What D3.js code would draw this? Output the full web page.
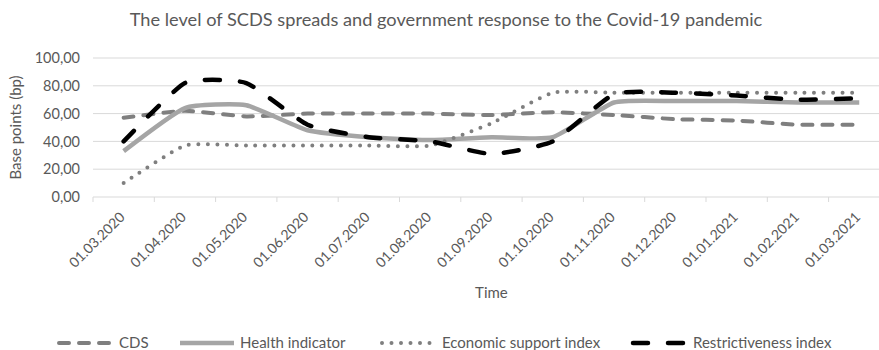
<!DOCTYPE html>
<html>
<head>
<meta charset="utf-8">
<script src="https://cdn.jsdelivr.net/npm/d3@7"></script>
<style>
  html, body { margin: 0; padding: 0; background: #fff; }
  svg { display: block; font-family: Lato, Carlito, Calibri, sans-serif; }
</style>
</head>
<body>
<svg id="chart" width="879" height="350"></svg>
<script>
// Monthly observations
const dates = ["01.03.2020","01.04.2020","01.05.2020","01.06.2020","01.07.2020","01.08.2020",
               "01.09.2020","01.10.2020","01.11.2020","01.12.2020","01.01.2021","01.02.2021","01.03.2021"];
const cds            = [57, 62, 58, 60, 60, 60, 59, 61, 59, 56, 55, 52, 52];
const health         = [33, 64, 66, 48, 43, 41, 43, 43, 68, 69, 69, 68, 68];
const economic       = [10, 37, 37, 37, 37, 37, 53, 75, 75, 75, 75, 75, 75];
const restrictive    = [40, 82, 82, 52, 43, 40, 31, 40, 74, 75, 73, 70, 71];
const yTicks = [0, 20, 40, 60, 80, 100];

const seriesNames = ["CDS", "Health indicator", "Economic support index", "Restrictiveness index"];

const styles = [
  { color: "#7f7f7f", width: 4,   dash: "10,10", cap: "round" },
  { color: "#a5a5a5", width: 4.5, dash: null,    cap: "butt"  },
  { color: "#7f7f7f", width: 4,   dash: "0,9.5", cap: "round" },
  { color: "#000000", width: 4.5, dash: "15,20", cap: "round" }
];
const seriesValues = [cds, health, economic, restrictive];

const svg = d3.select("#chart");
const textColor = "#595959";
const gridColor = "#d9d9d9";

const plotLeft = 93, step = 61.3;
const plotRight = plotLeft + step * dates.length;
const plotTop = 58, plotBottom = 197;

const x = d3.scalePoint().domain(dates).range([plotLeft, plotRight]).padding(0.5);
const y = d3.scaleLinear().domain([0, 100]).range([plotBottom, plotTop]);

// Title
svg.append("text")
  .attr("x", 446).attr("y", 26)
  .attr("text-anchor", "middle")
  .attr("font-size", 18.2)
  .attr("fill", textColor)
  .text("The level of SCDS spreads and government response to the Covid-19 pandemic");

// Horizontal gridlines
svg.append("g")
  .selectAll("line")
  .data(yTicks)
  .join("line")
  .attr("x1", plotLeft).attr("x2", plotRight)
  .attr("y1", d => y(d)).attr("y2", d => y(d))
  .attr("stroke", gridColor).attr("stroke-width", 1);

// Y axis labels
const fmt = d => d.toFixed(2).replace(".", ",");
const yAxis = svg.append("g")
  .attr("transform", `translate(${plotLeft - 13},0)`)
  .call(d3.axisLeft(y).tickValues(yTicks).tickFormat(fmt).tickSize(0).tickPadding(0));
yAxis.select(".domain").remove();
yAxis.selectAll("text")
  .attr("fill", textColor)
  .attr("font-size", 14.5)
  .attr("font-family", "Lato, Carlito, Calibri, sans-serif");

// Y axis title
svg.append("text")
  .attr("transform", `translate(21,${(plotTop + plotBottom) / 2}) rotate(-90)`)
  .attr("text-anchor", "middle")
  .attr("font-size", 15)
  .attr("fill", textColor)
  .text("Base points (bp)");

// Category tick marks on the baseline
const boundaries = d3.range(dates.length + 1).map(i => plotLeft + i * step);
svg.append("g")
  .selectAll("line")
  .data(boundaries)
  .join("line")
  .attr("x1", d => d).attr("x2", d => d)
  .attr("y1", plotBottom).attr("y2", plotBottom + 5)
  .attr("stroke", gridColor).attr("stroke-width", 1);

// X axis labels, rotated
svg.append("g")
  .selectAll("text")
  .data(dates)
  .join("text")
  .attr("transform", d => `translate(${x(d) + 2},${plotBottom + 21}) rotate(-45)`)
  .attr("text-anchor", "end")
  .attr("font-size", 14)
  .attr("fill", textColor)
  .text(d => d);

// X axis title
svg.append("text")
  .attr("x", (plotLeft + plotRight) / 2).attr("y", 298)
  .attr("text-anchor", "middle")
  .attr("font-size", 15)
  .attr("fill", textColor)
  .text("Time");

// Series lines (smoothed)
const line = d3.line()
  .x((d, i) => x(dates[i]))
  .y(d => y(d))
  .curve(d3.curveCardinal.tension(0.5));

svg.append("g")
  .selectAll("path")
  .data(seriesValues)
  .join("path")
  .attr("d", d => line(d))
  .attr("fill", "none")
  .attr("stroke", (d, i) => styles[i].color)
  .attr("stroke-width", (d, i) => styles[i].width)
  .attr("stroke-dasharray", (d, i) => styles[i].dash)
  .attr("stroke-linecap", (d, i) => styles[i].cap)
  .attr("stroke-linejoin", "round");

// Legend
const legendY = 343;
const legendX = [59, 180, 382, 633];
const legend = svg.append("g")
  .selectAll("g")
  .data(seriesNames)
  .join("g")
  .attr("transform", (d, i) => `translate(${legendX[i]},${legendY})`);
legend.append("line")
  .attr("x1", 0).attr("x2", 54).attr("y1", 0).attr("y2", 0)
  .attr("stroke", (d, i) => styles[i].color)
  .attr("stroke-width", (d, i) => styles[i].width)
  .attr("stroke-dasharray", (d, i) => styles[i].dash)
  .attr("stroke-linecap", (d, i) => styles[i].cap);
legend.append("text")
  .attr("x", 60).attr("y", 4.5)
  .attr("font-size", 15)
  .attr("fill", textColor)
  .text(d => d);
</script>
</body>
</html>
